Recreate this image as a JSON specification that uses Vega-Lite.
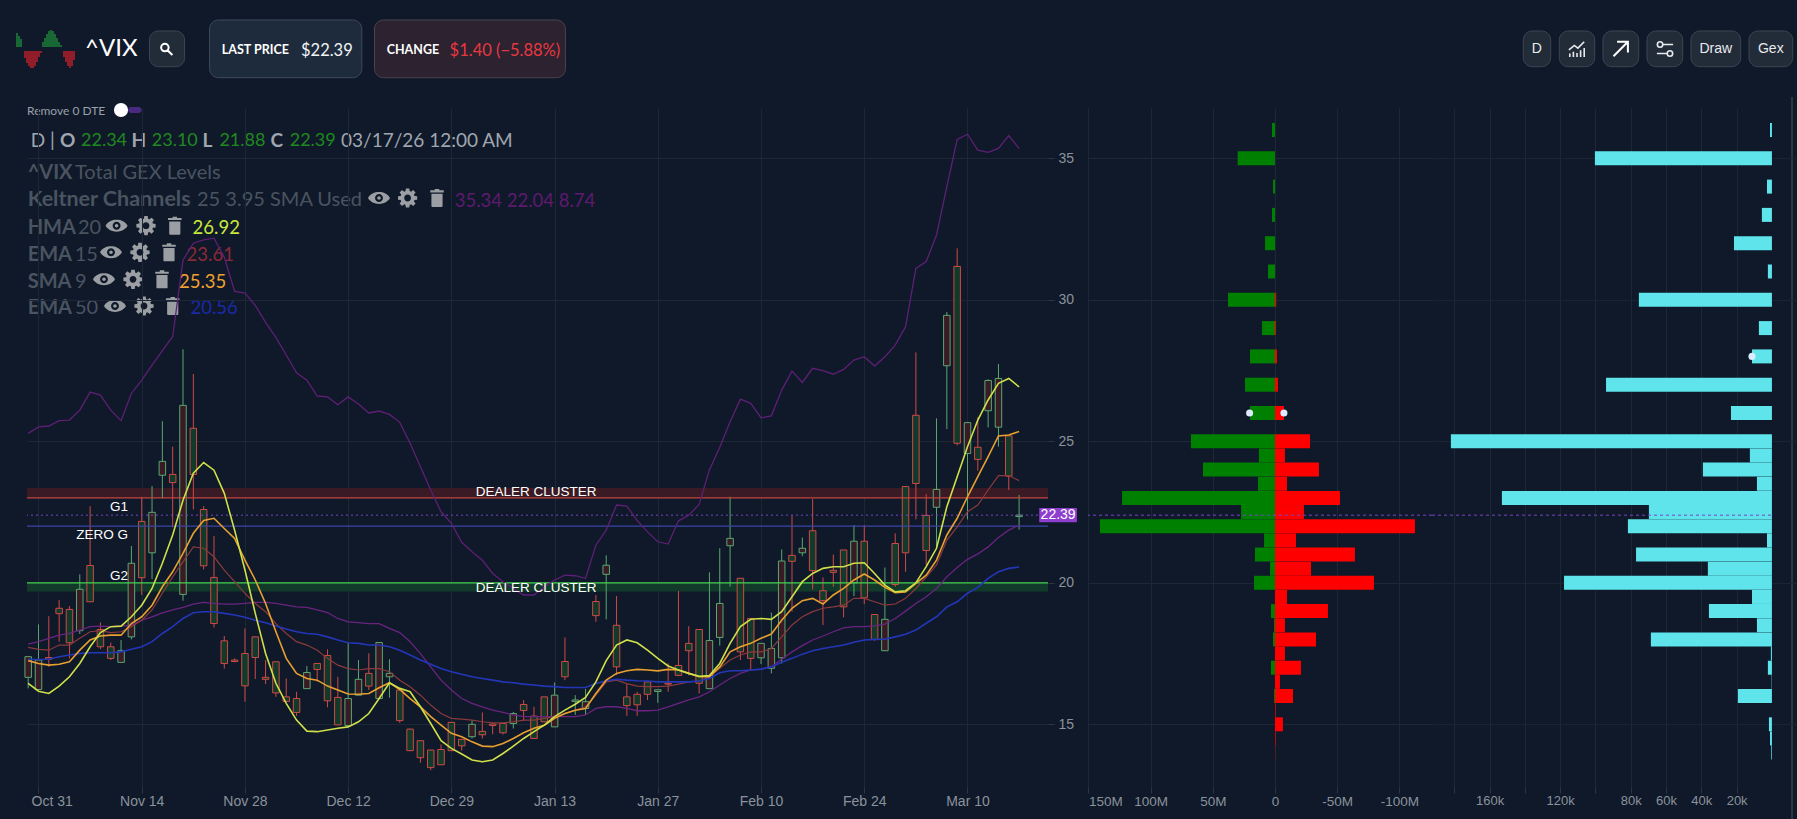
{"$schema":"https://vega.github.io/schema/vega-lite/v6.json","background":"#0f1929","padding":0,"spacing":0,"bounds":"flush","config":{"view":{"stroke":null},"font":"Liberation Sans"},
"datasets":{
"candles":[
{"i":-1,"o":16.66,"h":17.39,"l":16.27,"c":17.39,"d":"up","ku":25.28,"kb":17.83,"e15":17.72,"s9":17.25,"h20":16.45,"e50":17.3},
{"i":0,"o":16.23,"h":18.53,"l":16.23,"c":17.27,"d":"up","ku":25.51,"kb":17.92,"e15":17.65,"s9":17.15,"h20":16.17,"e50":17.29},
{"i":1,"o":17.36,"h":18.82,"l":17.03,"c":17.3,"d":"down","ku":25.54,"kb":18.04,"e15":17.62,"s9":17.09,"h20":16.09,"e50":17.3},
{"i":2,"o":19.1,"h":19.39,"l":17.92,"c":18.91,"d":"down","ku":25.73,"kb":18.15,"e15":17.8,"s9":17.12,"h20":16.35,"e50":17.39},
{"i":3,"o":19.06,"h":19.18,"l":17.33,"c":17.88,"d":"down","ku":25.75,"kb":18.21,"e15":17.8,"s9":17.21,"h20":16.68,"e50":17.45},
{"i":4,"o":18.31,"h":20.3,"l":18.19,"c":19.77,"d":"up","ku":26.1,"kb":18.33,"e15":18.04,"s9":17.62,"h20":17.15,"e50":17.5},
{"i":5,"o":20.61,"h":22.71,"l":19.33,"c":19.33,"d":"down","ku":26.74,"kb":18.45,"e15":18.27,"s9":17.98,"h20":17.74,"e50":17.53},
{"i":6,"o":18.35,"h":18.6,"l":17.66,"c":17.74,"d":"down","ku":26.63,"kb":18.47,"e15":18.31,"s9":18.12,"h20":18.24,"e50":17.53},
{"i":7,"o":17.74,"h":17.89,"l":17.27,"c":17.33,"d":"down","ku":26.1,"kb":18.45,"e15":18.24,"s9":18.15,"h20":18.45,"e50":17.53},
{"i":8,"o":17.19,"h":17.98,"l":17.19,"c":17.6,"d":"up","ku":25.73,"kb":18.47,"e15":18.27,"s9":18.15,"h20":18.47,"e50":17.56},
{"i":9,"o":18.09,"h":21.3,"l":18.0,"c":20.69,"d":"up","ku":26.69,"kb":18.5,"e15":18.45,"s9":18.56,"h20":18.8,"e50":17.65},
{"i":10,"o":22.17,"h":23.04,"l":19.57,"c":20.18,"d":"down","ku":27.16,"kb":18.68,"e15":18.68,"s9":18.8,"h20":19.21,"e50":17.74},
{"i":11,"o":21.06,"h":23.42,"l":20.13,"c":22.49,"d":"up","ku":27.69,"kb":18.8,"e15":19.04,"s9":19.21,"h20":19.8,"e50":17.92},
{"i":12,"o":23.8,"h":25.71,"l":22.98,"c":24.29,"d":"up","ku":28.2,"kb":18.94,"e15":19.63,"s9":19.86,"h20":20.69,"e50":18.21},
{"i":13,"o":23.83,"h":24.81,"l":21.96,"c":23.54,"d":"down","ku":28.7,"kb":19.04,"e15":20.21,"s9":20.39,"h20":21.69,"e50":18.45},
{"i":14,"o":19.59,"h":28.25,"l":19.37,"c":26.27,"d":"up","ku":31.4,"kb":19.13,"e15":20.74,"s9":21.04,"h20":22.92,"e50":18.74},
{"i":15,"o":25.46,"h":27.38,"l":22.59,"c":23.83,"d":"down","ku":32.0,"kb":19.25,"e15":21.27,"s9":21.75,"h20":23.87,"e50":18.94},
{"i":16,"o":22.59,"h":22.71,"l":20.47,"c":20.6,"d":"down","ku":32.12,"kb":19.31,"e15":21.22,"s9":22.2,"h20":24.25,"e50":18.98},
{"i":17,"o":20.19,"h":21.65,"l":18.42,"c":18.56,"d":"down","ku":32.18,"kb":19.27,"e15":20.92,"s9":22.28,"h20":23.98,"e50":18.98},
{"i":18,"o":17.95,"h":18.12,"l":16.97,"c":17.15,"d":"down","ku":31.5,"kb":19.25,"e15":20.45,"s9":21.92,"h20":23.16,"e50":18.92},
{"i":19,"o":17.27,"h":17.33,"l":17.19,"c":17.22,"d":"down","ku":30.3,"kb":19.25,"e15":20.04,"s9":21.57,"h20":21.86,"e50":18.86},
{"i":20,"o":17.5,"h":18.39,"l":15.8,"c":16.36,"d":"down","ku":30.24,"kb":19.27,"e15":19.63,"s9":20.8,"h20":20.45,"e50":18.78},
{"i":21,"o":18.09,"h":18.09,"l":16.6,"c":17.36,"d":"down","ku":29.8,"kb":19.31,"e15":19.27,"s9":20.1,"h20":18.92,"e50":18.68},
{"i":22,"o":16.66,"h":17.27,"l":16.42,"c":16.59,"d":"down","ku":29.2,"kb":19.31,"e15":18.98,"s9":19.27,"h20":17.5,"e50":18.59},
{"i":23,"o":17.21,"h":17.21,"l":15.97,"c":16.11,"d":"down","ku":28.67,"kb":19.27,"e15":18.56,"s9":18.27,"h20":16.45,"e50":18.47},
{"i":24,"o":15.97,"h":16.62,"l":15.81,"c":15.81,"d":"down","ku":28.05,"kb":19.21,"e15":18.21,"s9":17.33,"h20":15.74,"e50":18.37},
{"i":25,"o":15.91,"h":16.15,"l":15.3,"c":15.42,"d":"down","ku":27.42,"kb":19.15,"e15":17.92,"s9":16.8,"h20":15.15,"e50":18.27},
{"i":26,"o":16.26,"h":17.06,"l":16.26,"c":16.83,"d":"up","ku":27.16,"kb":19.13,"e15":17.8,"s9":16.62,"h20":14.76,"e50":18.21},
{"i":27,"o":17.15,"h":17.15,"l":16.5,"c":16.94,"d":"down","ku":26.6,"kb":19.04,"e15":17.62,"s9":16.56,"h20":14.74,"e50":18.18},
{"i":28,"o":17.43,"h":17.65,"l":15.6,"c":15.83,"d":"down","ku":26.57,"kb":18.95,"e15":17.33,"s9":16.35,"h20":14.8,"e50":18.09},
{"i":29,"o":15.95,"h":16.68,"l":14.98,"c":14.98,"d":"down","ku":26.29,"kb":18.74,"e15":17.09,"s9":16.21,"h20":14.86,"e50":17.98},
{"i":30,"o":14.96,"h":17.88,"l":14.96,"c":15.91,"d":"up","ku":26.57,"kb":18.62,"e15":16.97,"s9":16.07,"h20":14.91,"e50":17.88},
{"i":31,"o":16.03,"h":17.27,"l":16.03,"c":16.59,"d":"up","ku":26.32,"kb":18.59,"e15":16.92,"s9":16.06,"h20":15.09,"e50":17.86},
{"i":32,"o":16.8,"h":17.51,"l":16.21,"c":16.35,"d":"down","ku":26.0,"kb":18.56,"e15":16.97,"s9":16.09,"h20":15.38,"e50":17.8},
{"i":33,"o":15.91,"h":17.89,"l":15.91,"c":17.89,"d":"up","ku":26.07,"kb":18.56,"e15":16.97,"s9":16.29,"h20":15.91,"e50":17.8},
{"i":34,"o":16.68,"h":17.3,"l":15.94,"c":16.8,"d":"up","ku":25.95,"kb":18.39,"e15":16.86,"s9":16.47,"h20":16.47,"e50":17.74},
{"i":35,"o":16.21,"h":16.27,"l":15.05,"c":15.13,"d":"down","ku":25.67,"kb":18.24,"e15":16.56,"s9":16.23,"h20":16.27,"e50":17.62},
{"i":36,"o":14.83,"h":14.85,"l":14.05,"c":14.07,"d":"down","ku":24.93,"kb":17.92,"e15":16.33,"s9":15.91,"h20":16.15,"e50":17.45},
{"i":37,"o":14.42,"h":14.42,"l":13.64,"c":13.82,"d":"down","ku":24.1,"kb":17.5,"e15":16.03,"s9":15.62,"h20":15.62,"e50":17.27},
{"i":38,"o":14.09,"h":14.09,"l":13.38,"c":13.47,"d":"down","ku":23.28,"kb":17.03,"e15":15.68,"s9":15.27,"h20":15.03,"e50":17.12},
{"i":39,"o":14.11,"h":14.29,"l":13.57,"c":13.57,"d":"down","ku":22.51,"kb":16.56,"e15":15.38,"s9":14.97,"h20":14.42,"e50":16.97},
{"i":40,"o":15.07,"h":15.07,"l":14.05,"c":14.07,"d":"down","ku":22.1,"kb":16.21,"e15":15.21,"s9":14.68,"h20":14.15,"e50":16.86},
{"i":41,"o":14.47,"h":14.47,"l":14.07,"c":14.24,"d":"down","ku":21.43,"kb":15.91,"e15":15.18,"s9":14.56,"h20":13.95,"e50":16.77},
{"i":42,"o":14.56,"h":15.13,"l":14.5,"c":15.0,"d":"up","ku":21.1,"kb":15.74,"e15":15.15,"s9":14.38,"h20":13.74,"e50":16.68},
{"i":43,"o":14.75,"h":15.42,"l":14.5,"c":14.63,"d":"down","ku":20.8,"kb":15.62,"e15":15.09,"s9":14.23,"h20":13.68,"e50":16.62},
{"i":44,"o":15.01,"h":15.05,"l":14.65,"c":14.96,"d":"down","ku":20.33,"kb":15.5,"e15":15.05,"s9":14.21,"h20":13.74,"e50":16.56},
{"i":45,"o":15.03,"h":15.03,"l":14.64,"c":14.7,"d":"down","ku":20.04,"kb":15.42,"e15":15.05,"s9":14.32,"h20":13.97,"e50":16.5},
{"i":46,"o":15.03,"h":15.44,"l":14.85,"c":15.38,"d":"up","ku":19.8,"kb":15.33,"e15":15.09,"s9":14.5,"h20":14.23,"e50":16.47},
{"i":47,"o":15.7,"h":15.86,"l":15.13,"c":15.49,"d":"down","ku":19.57,"kb":15.27,"e15":15.15,"s9":14.7,"h20":14.5,"e50":16.42},
{"i":48,"o":15.29,"h":15.62,"l":14.5,"c":14.5,"d":"down","ku":19.57,"kb":15.27,"e15":15.15,"s9":14.86,"h20":14.74,"e50":16.39},
{"i":49,"o":15.97,"h":15.97,"l":15.09,"c":15.09,"d":"down","ku":19.86,"kb":15.27,"e15":15.21,"s9":14.97,"h20":14.97,"e50":16.35},
{"i":50,"o":14.91,"h":16.48,"l":14.91,"c":16.03,"d":"up","ku":20.1,"kb":15.27,"e15":15.27,"s9":15.21,"h20":15.27,"e50":16.33},
{"i":51,"o":17.22,"h":18.07,"l":16.56,"c":16.68,"d":"down","ku":20.27,"kb":15.27,"e15":15.38,"s9":15.38,"h20":15.5,"e50":16.3},
{"i":52,"o":15.81,"h":16.03,"l":15.33,"c":15.86,"d":"up","ku":20.25,"kb":15.27,"e15":15.5,"s9":15.5,"h20":15.71,"e50":16.3},
{"i":53,"o":15.56,"h":16.25,"l":15.33,"c":15.8,"d":"up","ku":20.16,"kb":15.33,"e15":15.62,"s9":15.56,"h20":15.95,"e50":16.3},
{"i":54,"o":19.34,"h":19.57,"l":18.62,"c":18.84,"d":"down","ku":21.33,"kb":15.56,"e15":16.03,"s9":16.09,"h20":16.5,"e50":16.44},
{"i":55,"o":20.3,"h":20.97,"l":18.71,"c":20.62,"d":"up","ku":21.86,"kb":15.62,"e15":16.5,"s9":16.56,"h20":17.25,"e50":16.54},
{"i":56,"o":18.5,"h":19.53,"l":16.74,"c":17.03,"d":"down","ku":22.75,"kb":15.62,"e15":16.56,"s9":16.8,"h20":17.8,"e50":16.59},
{"i":57,"o":15.97,"h":16.42,"l":15.3,"c":15.66,"d":"down","ku":22.71,"kb":15.56,"e15":16.44,"s9":16.89,"h20":17.98,"e50":16.56},
{"i":58,"o":16.06,"h":16.15,"l":15.3,"c":15.69,"d":"down","ku":22.2,"kb":15.48,"e15":16.35,"s9":16.94,"h20":17.88,"e50":16.54},
{"i":59,"o":16.5,"h":16.5,"l":15.86,"c":16.06,"d":"down","ku":21.8,"kb":15.48,"e15":16.33,"s9":16.92,"h20":17.62,"e50":16.53},
{"i":60,"o":16.16,"h":16.22,"l":15.76,"c":16.22,"d":"up","ku":21.45,"kb":15.5,"e15":16.33,"s9":16.89,"h20":17.33,"e50":16.5},
{"i":61,"o":16.45,"h":17.15,"l":16.15,"c":16.42,"d":"down","ku":21.37,"kb":15.62,"e15":16.35,"s9":16.94,"h20":17.06,"e50":16.5},
{"i":62,"o":17.08,"h":19.71,"l":16.73,"c":16.73,"d":"down","ku":22.19,"kb":15.74,"e15":16.42,"s9":16.92,"h20":16.92,"e50":16.5},
{"i":63,"o":17.86,"h":18.47,"l":16.73,"c":17.6,"d":"down","ku":22.39,"kb":15.86,"e15":16.5,"s9":16.8,"h20":16.8,"e50":16.5},
{"i":64,"o":18.35,"h":18.35,"l":16.09,"c":16.45,"d":"down","ku":22.77,"kb":15.97,"e15":16.53,"s9":16.68,"h20":16.7,"e50":16.53},
{"i":65,"o":16.26,"h":20.37,"l":16.26,"c":17.96,"d":"up","ku":23.99,"kb":16.15,"e15":16.68,"s9":16.68,"h20":16.72,"e50":16.62},
{"i":66,"o":18.07,"h":21.22,"l":17.78,"c":19.27,"d":"up","ku":24.79,"kb":16.39,"e15":16.98,"s9":17.03,"h20":17.15,"e50":16.82},
{"i":67,"o":21.31,"h":23.04,"l":19.86,"c":21.57,"d":"up","ku":25.69,"kb":16.62,"e15":17.27,"s9":17.56,"h20":17.86,"e50":16.89},
{"i":68,"o":20.16,"h":20.16,"l":17.27,"c":17.56,"d":"down","ku":26.49,"kb":16.8,"e15":17.45,"s9":17.74,"h20":18.45,"e50":16.89},
{"i":69,"o":18.74,"h":18.74,"l":16.94,"c":17.33,"d":"down","ku":26.34,"kb":16.92,"e15":17.56,"s9":17.86,"h20":18.71,"e50":16.92},
{"i":70,"o":17.35,"h":17.86,"l":17.13,"c":17.86,"d":"up","ku":25.83,"kb":16.94,"e15":17.56,"s9":18.04,"h20":18.74,"e50":16.95},
{"i":71,"o":16.98,"h":18.95,"l":16.8,"c":17.68,"d":"up","ku":25.9,"kb":17.03,"e15":17.68,"s9":18.19,"h20":18.71,"e50":17.03},
{"i":72,"o":17.35,"h":21.18,"l":17.15,"c":20.77,"d":"up","ku":26.81,"kb":17.3,"e15":18.09,"s9":18.68,"h20":18.98,"e50":17.19},
{"i":73,"o":20.97,"h":22.39,"l":18.98,"c":20.76,"d":"down","ku":27.48,"kb":17.56,"e15":18.51,"s9":19.1,"h20":19.51,"e50":17.33},
{"i":74,"o":21.06,"h":21.6,"l":20.94,"c":21.22,"d":"up","ku":27.08,"kb":17.78,"e15":18.8,"s9":19.37,"h20":20.04,"e50":17.48},
{"i":75,"o":21.84,"h":22.96,"l":19.77,"c":20.43,"d":"down","ku":27.58,"kb":17.98,"e15":18.98,"s9":19.45,"h20":20.33,"e50":17.6},
{"i":76,"o":19.72,"h":20.19,"l":18.51,"c":19.37,"d":"down","ku":27.5,"kb":18.12,"e15":19.1,"s9":19.25,"h20":20.51,"e50":17.68},
{"i":77,"o":20.44,"h":21.0,"l":19.86,"c":20.37,"d":"down","ku":27.37,"kb":18.27,"e15":19.15,"s9":19.57,"h20":20.57,"e50":17.74},
{"i":78,"o":21.16,"h":21.16,"l":18.78,"c":19.15,"d":"down","ku":27.54,"kb":18.41,"e15":19.21,"s9":19.8,"h20":20.57,"e50":17.8},
{"i":79,"o":20.0,"h":22.04,"l":19.53,"c":21.47,"d":"up","ku":27.87,"kb":18.45,"e15":19.45,"s9":20.1,"h20":20.69,"e50":17.9},
{"i":80,"o":21.47,"h":22.04,"l":19.25,"c":19.47,"d":"down","ku":27.99,"kb":18.45,"e15":19.45,"s9":20.31,"h20":20.71,"e50":17.98},
{"i":81,"o":18.88,"h":18.88,"l":17.95,"c":18.0,"d":"down","ku":27.66,"kb":18.48,"e15":19.33,"s9":20.1,"h20":20.33,"e50":18.0},
{"i":82,"o":17.6,"h":20.54,"l":17.6,"c":18.71,"d":"up","ku":27.99,"kb":18.54,"e15":19.21,"s9":19.84,"h20":19.92,"e50":18.01},
{"i":83,"o":21.39,"h":21.75,"l":19.86,"c":19.94,"d":"down","ku":28.4,"kb":18.74,"e15":19.25,"s9":19.65,"h20":19.68,"e50":18.09},
{"i":84,"o":23.4,"h":23.4,"l":20.39,"c":21.06,"d":"down","ku":29.05,"kb":19.0,"e15":19.45,"s9":19.68,"h20":19.72,"e50":18.18},
{"i":85,"o":25.92,"h":28.14,"l":22.24,"c":23.51,"d":"down","ku":31.11,"kb":19.27,"e15":19.8,"s9":19.98,"h20":20.0,"e50":18.33},
{"i":86,"o":22.38,"h":23.13,"l":20.63,"c":21.14,"d":"down","ku":31.35,"kb":19.51,"e15":20.2,"s9":20.27,"h20":20.57,"e50":18.57},
{"i":87,"o":22.67,"h":25.81,"l":21.2,"c":23.3,"d":"up","ku":32.29,"kb":19.8,"e15":20.63,"s9":20.8,"h20":21.22,"e50":18.8},
{"i":88,"o":27.67,"h":29.57,"l":25.43,"c":29.45,"d":"up","ku":34.0,"kb":20.21,"e15":21.51,"s9":21.69,"h20":22.69,"e50":19.15},
{"i":89,"o":31.18,"h":31.82,"l":24.85,"c":24.93,"d":"down","ku":35.67,"kb":20.54,"e15":21.98,"s9":22.28,"h20":23.75,"e50":19.33},
{"i":90,"o":24.57,"h":25.66,"l":22.24,"c":25.66,"d":"up","ku":35.85,"kb":20.83,"e15":22.51,"s9":23.04,"h20":24.81,"e50":19.63},
{"i":91,"o":24.79,"h":25.85,"l":23.96,"c":24.36,"d":"down","ku":35.29,"kb":21.02,"e15":22.75,"s9":23.75,"h20":25.75,"e50":19.84},
{"i":92,"o":26.08,"h":27.19,"l":25.49,"c":27.15,"d":"up","ku":35.21,"kb":21.27,"e15":23.28,"s9":24.46,"h20":26.46,"e50":20.16},
{"i":93,"o":25.5,"h":27.73,"l":24.81,"c":27.22,"d":"up","ku":35.35,"kb":21.6,"e15":23.79,"s9":25.19,"h20":27.05,"e50":20.39},
{"i":94,"o":25.19,"h":25.19,"l":23.28,"c":23.77,"d":"down","ku":35.8,"kb":21.86,"e15":23.79,"s9":25.22,"h20":27.22,"e50":20.51},
{"i":95,"o":22.34,"h":23.1,"l":21.88,"c":22.39,"d":"up","ku":35.34,"kb":22.04,"e15":23.61,"s9":25.35,"h20":26.92,"e50":20.56}
],
"gex":[
{"s":36,"call":2.4,"put":0,"vol":1.1},{"s":35,"call":30,"put":0,"vol":100.3},{"s":34,"call":1.6,"put":0,"vol":2.8},{"s":33,"call":2.4,"put":0,"vol":5.7},{"s":32,"call":8,"put":0,"vol":21.5},{"s":31,"call":5.6,"put":0,"vol":2.3},{"s":30,"call":37.8,"put":-1,"vol":75.4},{"s":29,"call":10.5,"put":-0.8,"vol":7.4},{"s":28,"call":20.1,"put":-1.6,"vol":11.3},{"s":27,"call":24.1,"put":-2.4,"vol":94},{"s":26,"call":20.1,"put":-7.2,"vol":23.2},{"s":25,"call":67.6,"put":-28.2,"vol":181.9},{"s":24.5,"call":12.9,"put":-8,"vol":12.5},{"s":24,"call":57.9,"put":-35.4,"vol":39.1},{"s":23.5,"call":13.7,"put":-9.7,"vol":8.5},{"s":23,"call":123,"put":-52.3,"vol":153},{"s":22.5,"call":27.3,"put":-23.3,"vol":69.7},{"s":22,"call":140.8,"put":-112.6,"vol":81.6},{"s":21.5,"call":8.8,"put":-16.9,"vol":2.8},{"s":21,"call":16.1,"put":-64.3,"vol":77},{"s":20.5,"call":4,"put":-29,"vol":36.3},{"s":20,"call":16.9,"put":-79.6,"vol":117.8},{"s":19.5,"call":0,"put":-9.7,"vol":11.3},{"s":19,"call":3.2,"put":-42.6,"vol":35.7},{"s":18.5,"call":0.8,"put":-8,"vol":8.5},{"s":18,"call":1.6,"put":-33,"vol":68.6},{"s":17.5,"call":0,"put":-8,"vol":0.6},{"s":17,"call":3.2,"put":-20.9,"vol":2.3},{"s":16.5,"call":0,"put":-4,"vol":0.2},{"s":16,"call":0.8,"put":-14.5,"vol":19.3},{"s":15.5,"call":0,"put":-0.5,"vol":0},{"s":15,"call":0,"put":-6.4,"vol":1.7},{"s":14.5,"call":0,"put":-0.5,"vol":1.1},{"s":14,"call":0,"put":-0.2,"vol":0.4}
],
"plain":[
{"t":"^VIX","x":85,"y":47,"k":"vix"},{"t":"$22.39","x":301,"y":49,"k":"white16"},{"t":"$1.40 (−5.88%)","x":449.6,"y":49,"k":"red16"},{"t":"Remove 0 DTE","x":27,"y":109,"k":"gray12"},
{"t":"D |","x":30.8,"y":139,"k":"gray19"},{"t":"22.34","x":81,"y":139,"k":"green18"},{"t":"23.10","x":151.8,"y":139,"k":"green18"},{"t":"21.88","x":219.4,"y":139,"k":"green18"},{"t":"22.39","x":289.7,"y":139,"k":"green18"},{"t":"03/17/26 12:00 AM","x":341,"y":139,"k":"gray19"},
{"t":"Total GEX Levels","x":75,"y":171,"k":"dim20"},{"t":"25 3.95 SMA Used","x":197,"y":198,"k":"dim20"},{"t":"35.34 22.04 8.74","x":454.7,"y":199,"k":"purple"},
{"t":"20","x":78,"y":226,"k":"dim20"},{"t":"26.92","x":192.6,"y":226,"k":"lime"},{"t":"15","x":74.7,"y":253,"k":"dim20"},{"t":"23.61","x":186.6,"y":253,"k":"dred"},{"t":"9","x":75,"y":280,"k":"dim20"},{"t":"25.35","x":179,"y":280,"k":"orange"},{"t":"50","x":75,"y":306,"k":"dim20"},{"t":"20.56","x":190.5,"y":306,"k":"blue"}
],
"bold":[
{"t":"LAST PRICE","x":221.8,"y":48,"k":"white12"},{"t":"CHANGE","x":386.7,"y":48,"k":"white12"},{"t":"O","x":60,"y":139,"k":"gray19"},{"t":"H","x":131.6,"y":139,"k":"gray19"},{"t":"L","x":202.4,"y":139,"k":"gray19"},{"t":"C","x":270.4,"y":139,"k":"gray19"},
{"t":"^VIX","x":27.7,"y":171,"k":"dim20"},{"t":"Keltner Channels","x":27.7,"y":198,"k":"dim22"},{"t":"HMA","x":27.7,"y":226,"k":"dim20"},{"t":"EMA","x":27.7,"y":253,"k":"dim20"},{"t":"SMA","x":27.7,"y":280,"k":"dim20"},{"t":"EMA","x":27.7,"y":306,"k":"dim20"}
],
"boxes":[
{"x":149.5,"x2":184.6,"y":31,"y2":66.7,"k":"btn"},{"x":209.6,"x2":361.8,"y":20,"y2":77.7,"k":"last"},{"x":374.5,"x2":565.4,"y":20,"y2":77.7,"k":"chg"},
{"x":1523.3,"x2":1550.7,"y":31,"y2":66.7,"k":"btn"},{"x":1559.3,"x2":1594.7,"y":31,"y2":66.7,"k":"btn"},{"x":1603,"x2":1638.7,"y":31,"y2":66.7,"k":"btn"},{"x":1647,"x2":1682.7,"y":31,"y2":66.7,"k":"btn"},{"x":1691,"x2":1740.7,"y":31,"y2":66.7,"k":"btn"},{"x":1749,"x2":1792.7,"y":31,"y2":66.7,"k":"btn"}
],
"logo":[
{"x":17,"a":33,"b":47,"k":"g"},{"x":19,"a":36,"b":47,"k":"g"},{"x":21,"a":39,"b":47,"k":"g"},{"x":43,"a":42,"b":47,"k":"g"},{"x":45,"a":38,"b":47,"k":"g"},{"x":47,"a":34,"b":47,"k":"g"},{"x":49,"a":31,"b":47,"k":"g"},{"x":51,"a":30,"b":47,"k":"g"},{"x":53,"a":31,"b":47,"k":"g"},{"x":55,"a":34,"b":47,"k":"g"},{"x":57,"a":38,"b":47,"k":"g"},{"x":59,"a":42,"b":47,"k":"g"},{"x":61,"a":45,"b":47,"k":"g"},
{"x":25,"a":51,"b":58,"k":"r"},{"x":27,"a":51,"b":63,"k":"r"},{"x":29,"a":51,"b":66,"k":"r"},{"x":31,"a":51,"b":68,"k":"r"},{"x":33,"a":51,"b":68,"k":"r"},{"x":35,"a":51,"b":66,"k":"r"},{"x":37,"a":51,"b":62,"k":"r"},{"x":39,"a":51,"b":57,"k":"r"},{"x":41,"a":51,"b":53,"k":"r"},{"x":64,"a":51,"b":57,"k":"r"},{"x":66,"a":51,"b":62,"k":"r"},{"x":68,"a":51,"b":66,"k":"r"},{"x":70,"a":51,"b":68,"k":"r"},{"x":72,"a":51,"b":66,"k":"r"},{"x":74,"a":51,"b":60,"k":"r"}
]
},
"vconcat":[
{"width":1797,"height":108,"resolve":{"scale":{"color":"independent","size":"independent","fill":"independent","stroke":"independent"}},"layer":[
{"data":{"name":"boxes"},"mark":{"type":"rect","cornerRadius":9,"strokeWidth":1},"encoding":{"x":{"field":"x","type":"quantitative","scale":{"domain":[0,1797]},"axis":null},"x2":{"field":"x2"},"y":{"field":"y","type":"quantitative","scale":{"domain":[0,108],"reverse":true},"axis":null},"y2":{"field":"y2"},"fill":{"field":"k","type":"nominal","legend":null,"scale":{"domain":["btn","last","chg"],"range":["#222c39","#1e2b3c","#2c2230"]}},"stroke":{"field":"k","type":"nominal","legend":null,"scale":{"domain":["btn","last","chg"],"range":["#3c4652","#3e4a5a","#4b4450"]}}}},
{"data":{"values":[{"x":1791,"x2":1793,"y":97,"y2":819}]},"mark":{"type":"rect","fill":"#2a3442"},"encoding":{"x":{"field":"x","type":"quantitative","scale":{"domain":[0,1797]},"axis":null},"x2":{"field":"x2"},"y":{"field":"y","type":"quantitative","scale":{"domain":[0,108],"reverse":true},"axis":null},"y2":{"field":"y2"}}},
{"data":{"values":[{"x":128,"x2":141.6,"y":107,"y2":113}]},"mark":{"type":"rect","fill":"#4a2a80","cornerRadius":3},"encoding":{"x":{"field":"x","type":"quantitative","scale":{"domain":[0,1797]},"axis":null},"x2":{"field":"x2"},"y":{"field":"y","type":"quantitative","scale":{"domain":[0,108],"reverse":true},"axis":null},"y2":{"field":"y2"}}},
{"data":{"values":[{"x":121,"y":110}]},"mark":{"type":"point","filled":true,"shape":"circle","size":200,"color":"#ffffff","opacity":1},"encoding":{"x":{"field":"x","type":"quantitative","scale":{"domain":[0,1797]},"axis":null},"y":{"field":"y","type":"quantitative","scale":{"domain":[0,108],"reverse":true},"axis":null}}},
{"data":{"name":"logo"},"mark":{"type":"rule","strokeWidth":1.4},"encoding":{"x":{"field":"x","type":"quantitative","scale":{"domain":[0,1797]},"axis":null},"y":{"field":"a","type":"quantitative","scale":{"domain":[0,108],"reverse":true},"axis":null},"y2":{"field":"b"},"color":{"field":"k","type":"nominal","legend":null,"scale":{"domain":["g","r"],"range":["#1e8a3a","#c8202c"]}}}},
{"data":{"name":"plain"},"mark":{"type":"text","font":"Lato","align":"left","baseline":"middle","dy":1.5},"encoding":{"x":{"field":"x","type":"quantitative","scale":{"domain":[0,1797]},"axis":null},"y":{"field":"y","type":"quantitative","scale":{"domain":[0,108],"reverse":true},"axis":null},"text":{"field":"t"},"color":{"field":"k","type":"nominal","legend":null,"scale":{"domain":["vix","white16","red16","gray12","gray19","green18","dim20","dim22","purple","lime","dred","orange","blue","white12"],"range":["#ffffff","#f2f4f6","#e8383f","#98a0aa","#a0a6b0","#1f8a1f","#4a5360","#4a5360","#5e1a70","#c8e83a","#8a2a38","#f0a030","#1a2aa8","#ffffff"]}},"size":{"field":"k","type":"ordinal","legend":null,"scale":{"type":"ordinal","domain":["vix","white16","red16","gray12","gray19","green18","dim20","dim22","purple","lime","dred","orange","blue","white12"],"range":[24,16.5,16.5,12,19,18,20,21.5,18.5,18.5,18.5,18.5,18.5,12.5]}}}},
{"data":{"name":"bold"},"mark":{"type":"text","font":"Lato","fontWeight":"bold","align":"left","baseline":"middle","dy":1.5},"encoding":{"x":{"field":"x","type":"quantitative","scale":{"domain":[0,1797]},"axis":null},"y":{"field":"y","type":"quantitative","scale":{"domain":[0,108],"reverse":true},"axis":null},"text":{"field":"t"},"color":{"field":"k","type":"nominal","legend":null,"scale":{"domain":["vix","white16","red16","gray12","gray19","green18","dim20","dim22","purple","lime","dred","orange","blue","white12"],"range":["#ffffff","#f2f4f6","#e8383f","#98a0aa","#a0a6b0","#1f8a1f","#4a5360","#4a5360","#5e1a70","#c8e83a","#8a2a38","#f0a030","#1a2aa8","#ffffff"]}},"size":{"field":"k","type":"ordinal","legend":null,"scale":{"type":"ordinal","domain":["vix","white16","red16","gray12","gray19","green18","dim20","dim22","purple","lime","dred","orange","blue","white12"],"range":[24,16.5,16.5,12,19,18,20,21.5,18.5,18.5,18.5,18.5,18.5,12.5]}}}},
{"data":{"values":[{"t":"D","x":1536.7,"y":49.3},{"t":"Draw","x":1715.8,"y":49.3},{"t":"Gex","x":1770.8,"y":49.3}]},"mark":{"type":"text","font":"Liberation Sans","fontSize":14,"color":"#e8eaed","align":"center","baseline":"middle"},"encoding":{"x":{"field":"x","type":"quantitative","scale":{"domain":[0,1797]},"axis":null},"y":{"field":"y","type":"quantitative","scale":{"domain":[0,108],"reverse":true},"axis":null},"text":{"field":"t"}}},
{"data":{"values":[{"x":379,"y":198},{"x":116.6,"y":225.7},{"x":111,"y":252.3},{"x":104,"y":279.3},{"x":115,"y":306}]},"mark":{"type":"point","filled":true,"opacity":1,"color":"#9b9ea3","size":484,"shape":"M-1,0 C-0.6,-0.72 0.6,-0.72 1,0 C0.6,0.72 -0.6,0.72 -1,0 Z M0.36,0 A0.36,0.36 0 1 0 -0.36,0 A0.36,0.36 0 1 0 0.36,0 Z M0.16,0 A0.16,0.16 0 1 1 -0.16,0 A0.16,0.16 0 1 1 0.16,0 Z"},"encoding":{"x":{"field":"x","type":"quantitative","scale":{"domain":[0,1797]},"axis":null},"y":{"field":"y","type":"quantitative","scale":{"domain":[0,108],"reverse":true},"axis":null}}},
{"data":{"values":[{"x":407.6,"y":198},{"x":146,"y":225.7},{"x":140,"y":252.3},{"x":133,"y":279.3},{"x":144,"y":306}]},"mark":{"type":"point","filled":true,"opacity":1,"color":"#9b9ea3","size":380,"shape":"M.708,-.216 L.985,-.174 L.985,.174 L.708,.216 L.653,.347 L.819,.574 L.574,.819 L.347,.653 L.216,.708 L.174,.985 L-.174,.985 L-.216,.708 L-.347,.653 L-.574,.819 L-.819,.574 L-.653,.347 L-.708,.216 L-.985,.174 L-.985,-.174 L-.708,-.216 L-.653,-.347 L-.819,-.574 L-.574,-.819 L-.347,-.653 L-.216,-.708 L-.174,-.985 L.174,-.985 L.216,-.708 L.347,-.653 L.574,-.819 L.819,-.574 L.653,-.347 Z M.35,0 A.35,.35 0 1 0 -.35,0 A.35,.35 0 1 0 .35,0 Z"},"encoding":{"x":{"field":"x","type":"quantitative","scale":{"domain":[0,1797]},"axis":null},"y":{"field":"y","type":"quantitative","scale":{"domain":[0,108],"reverse":true},"axis":null}}},
{"data":{"values":[{"x":437,"y":198},{"x":174.8,"y":225.7},{"x":169,"y":252.3},{"x":162,"y":279.3},{"x":172.7,"y":306}]},"mark":{"type":"point","filled":true,"opacity":1,"color":"#9b9ea3","size":324,"shape":"M-.25,-1 L.25,-1 L.25,-.85 L.75,-.85 L.75,-.62 L-.75,-.62 L-.75,-.85 L-.25,-.85 Z M-.62,-.48 L.62,-.48 L.62,.9 Q.62,1 .5,1 L-.5,1 Q-.62,1 -.62,.9 Z"},"encoding":{"x":{"field":"x","type":"quantitative","scale":{"domain":[0,1797]},"axis":null},"y":{"field":"y","type":"quantitative","scale":{"domain":[0,108],"reverse":true},"axis":null}}},
{"data":{"values":[{"x":166,"y":48.7}]},"mark":{"type":"point","filled":false,"opacity":1,"color":"#ffffff","strokeWidth":2,"size":225,"shape":"M.35,-.15 A.5,.5 0 1 1 -.65,-.15 A.5,.5 0 1 1 .35,-.15 M.2,.2 L.85,.85"},"encoding":{"x":{"field":"x","type":"quantitative","scale":{"domain":[0,1797]},"axis":null},"y":{"field":"y","type":"quantitative","scale":{"domain":[0,108],"reverse":true},"axis":null}}},
{"data":{"values":[{"x":1577,"y":49}]},"mark":{"type":"point","filled":false,"opacity":1,"color":"#e8eaed","strokeWidth":1.6,"size":324,"shape":"M-.8,.9 L-.8,.5 M-.4,.9 L-.4,.3 M0,.9 L0,.45 M.4,.9 L.4,.15 M.8,.9 L.8,-.1 M-.9,.1 L-.3,-.4 L.1,-.1 L.8,-.8"},"encoding":{"x":{"field":"x","type":"quantitative","scale":{"domain":[0,1797]},"axis":null},"y":{"field":"y","type":"quantitative","scale":{"domain":[0,108],"reverse":true},"axis":null}}},
{"data":{"values":[{"x":1620.7,"y":49}]},"mark":{"type":"point","filled":false,"opacity":1,"color":"#ffffff","strokeWidth":2,"size":324,"shape":"M-.8,.8 L.8,-.8 M-.4,-.8 L.8,-.8 L.8,.4"},"encoding":{"x":{"field":"x","type":"quantitative","scale":{"domain":[0,1797]},"axis":null},"y":{"field":"y","type":"quantitative","scale":{"domain":[0,108],"reverse":true},"axis":null}}},
{"data":{"values":[{"x":1665,"y":49}]},"mark":{"type":"point","filled":false,"opacity":1,"color":"#e8eaed","strokeWidth":1.6,"size":324,"shape":"M-.25,-.5 A.3,.3 0 1 1 -.85,-.5 A.3,.3 0 1 1 -.25,-.5 M-.25,-.5 L.9,-.5 M.85,.5 A.3,.3 0 1 1 .25,.5 A.3,.3 0 1 1 .85,.5 M.25,.5 L-.9,.5"},"encoding":{"x":{"field":"x","type":"quantitative","scale":{"domain":[0,1797]},"axis":null},"y":{"field":"y","type":"quantitative","scale":{"domain":[0,108],"reverse":true},"axis":null}}}
]},
{"spacing":0,"bounds":"flush","hconcat":[
{"width":27,"height":679,"data":{"values":[{"a":1}]},"mark":{"type":"point","opacity":0},"encoding":{}},
{"width":1021,"height":679,"layer":[
{"data":{"values":[{"a":23,"b":23.35,"k":"r"},{"a":20,"b":19.69,"k":"g"}]},"mark":{"type":"rect"},"encoding":{"y":{"field":"a","type":"quantitative","scale":{"domain":[12.785,36.777],"nice":false,"zero":false},"axis":{"orient":"right","title":null,"values":[15,20,25,30,35],"grid":true,"gridColor":"#1d2836","domain":false,"tickColor":"#2c3642","tickSize":6,"labelColor":"#8b929c","labelFontSize":14,"labelFont":"Liberation Sans","labelPadding":4}},"y2":{"field":"b"},"fill":{"field":"k","type":"nominal","legend":null,"scale":{"domain":["r","g"],"range":["#3a1a24","#123a2a"]}}}},
{"data":{"name":"candles"},"mark":{"type":"rule","strokeWidth":1},"encoding":{"x":{"field":"i","type":"quantitative","scale":{"domain":[-1.114,97.8],"nice":false,"zero":false,"padding":0},"axis":{"title":null,"values":[0,10,20,30,40,50,60,70,80,90],"labelExpr":"['Oct 31','Nov 14','Nov 28','Dec 12','Dec 29','Jan 13','Jan 27','Feb 10','Feb 24','Mar 10'][datum.value/10]","grid":true,"gridColor":"#1d2836","domain":false,"tickColor":"#2c3642","tickSize":6,"labelColor":"#8b929c","labelFontSize":14,"labelFont":"Liberation Sans","labelPadding":1,"labelFlush":12,"labelFlushOffset":7.5}},"y":{"field":"l","type":"quantitative","scale":{"domain":[12.785,36.777],"nice":false,"zero":false}},"y2":{"field":"h"},"stroke":{"field":"d","type":"nominal","legend":null,"scale":{"domain":["up","down"],"range":["#5aa870","#cf4a44"]}}}},
{"data":{"name":"candles"},"mark":{"type":"bar","orient":"vertical","size":6.5,"strokeWidth":1},"encoding":{"x":{"field":"i","type":"quantitative","scale":{"domain":[-1.114,97.8],"nice":false,"zero":false,"padding":0}},"y":{"field":"o","type":"quantitative","scale":{"domain":[12.785,36.777],"nice":false,"zero":false}},"y2":{"field":"c"},"fill":{"field":"d","type":"nominal","legend":null,"scale":{"domain":["up","down"],"range":["#37734c","#983838"]}},"stroke":{"field":"d","type":"nominal","legend":null,"scale":{"domain":["up","down"],"range":["#5aa870","#cf4a44"]}}}},
{"data":{"values":[{"p":23,"k":"r"},{"p":22,"k":"z"},{"p":20,"k":"g"}]},"mark":{"type":"rule","strokeWidth":1.3},"encoding":{"y":{"field":"p","type":"quantitative","scale":{"domain":[12.785,36.777],"nice":false,"zero":false}},"color":{"field":"k","type":"nominal","legend":null,"scale":{"domain":["r","z","g"],"range":["#c2453f","#3a44a8","#46d050"]}}}},
{"data":{"values":[{"p":22.39}]},"mark":{"type":"rule","strokeWidth":1,"strokeDash":[2,3],"color":"#7a44c8"},"encoding":{"y":{"field":"p","type":"quantitative","scale":{"domain":[12.785,36.777],"nice":false,"zero":false}}}},
{"data":{"name":"candles"},"mark":{"type":"line","strokeWidth":1.3,"color":"#5e1f75"},"encoding":{"x":{"field":"i","type":"quantitative","scale":{"domain":[-1.114,97.8],"nice":false,"zero":false,"padding":0}},"y":{"field":"ku","type":"quantitative","scale":{"domain":[12.785,36.777],"nice":false,"zero":false}}}},
{"data":{"name":"candles"},"mark":{"type":"line","strokeWidth":1.3,"color":"#6a2480"},"encoding":{"x":{"field":"i","type":"quantitative","scale":{"domain":[-1.114,97.8],"nice":false,"zero":false,"padding":0}},"y":{"field":"kb","type":"quantitative","scale":{"domain":[12.785,36.777],"nice":false,"zero":false}}}},
{"data":{"name":"candles"},"mark":{"type":"line","strokeWidth":1.2,"color":"#8a3a3c"},"encoding":{"x":{"field":"i","type":"quantitative","scale":{"domain":[-1.114,97.8],"nice":false,"zero":false,"padding":0}},"y":{"field":"e15","type":"quantitative","scale":{"domain":[12.785,36.777],"nice":false,"zero":false}}}},
{"data":{"name":"candles"},"mark":{"type":"line","strokeWidth":1.6,"color":"#2436b8"},"encoding":{"x":{"field":"i","type":"quantitative","scale":{"domain":[-1.114,97.8],"nice":false,"zero":false,"padding":0}},"y":{"field":"e50","type":"quantitative","scale":{"domain":[12.785,36.777],"nice":false,"zero":false}}}},
{"data":{"name":"candles"},"mark":{"type":"line","strokeWidth":1.6,"color":"#e8a030"},"encoding":{"x":{"field":"i","type":"quantitative","scale":{"domain":[-1.114,97.8],"nice":false,"zero":false,"padding":0}},"y":{"field":"s9","type":"quantitative","scale":{"domain":[12.785,36.777],"nice":false,"zero":false}}}},
{"data":{"name":"candles"},"mark":{"type":"line","strokeWidth":1.6,"color":"#cfe04a"},"encoding":{"x":{"field":"i","type":"quantitative","scale":{"domain":[-1.114,97.8],"nice":false,"zero":false,"padding":0}},"y":{"field":"h20","type":"quantitative","scale":{"domain":[12.785,36.777],"nice":false,"zero":false}}}},
{"data":{"values":[{"t":"G1","i":8.67,"p":22.68},{"t":"ZERO G","i":8.67,"p":21.69},{"t":"G2","i":8.67,"p":20.24}]},"mark":{"type":"text","font":"Liberation Sans","fontSize":13.5,"color":"#ffffff","align":"right","baseline":"middle"},"encoding":{"x":{"field":"i","type":"quantitative","scale":{"domain":[-1.114,97.8],"nice":false,"zero":false,"padding":0}},"y":{"field":"p","type":"quantitative","scale":{"domain":[12.785,36.777],"nice":false,"zero":false}},"text":{"field":"t"}}},
{"data":{"values":[{"t":"DEALER CLUSTER","i":48.2,"p":23.2},{"t":"DEALER CLUSTER","i":48.2,"p":19.83}]},"mark":{"type":"text","font":"Liberation Sans","fontSize":13.5,"color":"#ffffff","align":"center","baseline":"middle"},"encoding":{"x":{"field":"i","type":"quantitative","scale":{"domain":[-1.114,97.8],"nice":false,"zero":false,"padding":0}},"y":{"field":"p","type":"quantitative","scale":{"domain":[12.785,36.777],"nice":false,"zero":false}},"text":{"field":"t"}}},
{"data":{"values":[{"a":96.95,"b":100.6,"p":22.64,"q":22.14}]},"mark":{"type":"rect","fill":"#8f3fcf"},"encoding":{"x":{"field":"a","type":"quantitative","scale":{"domain":[-1.114,97.8],"nice":false,"zero":false,"padding":0}},"x2":{"field":"b"},"y":{"field":"p","type":"quantitative","scale":{"domain":[12.785,36.777],"nice":false,"zero":false}},"y2":{"field":"q"}}},
{"data":{"values":[{"t":"22.39","i":98.78,"p":22.39}]},"mark":{"type":"text","font":"Liberation Sans","fontSize":14,"color":"#ffffff","align":"center","baseline":"middle"},"encoding":{"x":{"field":"i","type":"quantitative","scale":{"domain":[-1.114,97.8],"nice":false,"zero":false,"padding":0}},"y":{"field":"p","type":"quantitative","scale":{"domain":[12.785,36.777],"nice":false,"zero":false}},"text":{"field":"t"}}}
]},
{"width":40,"height":679,"data":{"values":[{"a":1}]},"mark":{"type":"point","opacity":0},"encoding":{}},
{"width":344,"height":679,"layer":[
{"data":{"name":"gex"},"mark":{"type":"bar","orient":"horizontal","size":14,"color":"#008000"},"encoding":{"x":{"field":"call","type":"quantitative","stack":null,"scale":{"domain":[-126.3,150.4],"reverse":true,"nice":false},"axis":{"title":null,"values":[150,100,50,0,-50,-100],"labelExpr":"datum.value==0?'0':datum.value+'M'","grid":true,"gridColor":"#1d2836","domain":false,"tickColor":"#2c3642","tickSize":6,"labelColor":"#8b929c","labelFontSize":13.5,"labelFont":"Liberation Sans","labelPadding":1,"labelFlush":2}},"y":{"field":"s","type":"quantitative","scale":{"domain":[12.785,36.777],"nice":false,"zero":false,"padding":0},"axis":{"title":null,"values":[15,20,25,30,35],"grid":true,"gridColor":"#1d2836","domain":false,"ticks":false,"labels":false}}}},
{"data":{"name":"gex"},"mark":{"type":"bar","orient":"horizontal","size":14,"color":"#ff0000"},"encoding":{"x":{"field":"put","type":"quantitative","stack":null,"scale":{"domain":[-126.3,150.4],"reverse":true,"nice":false}},"y":{"field":"s","type":"quantitative","scale":{"domain":[12.785,36.777],"nice":false,"zero":false,"padding":0}}}},
{"data":{"values":[{"p":22.39}]},"mark":{"type":"rule","strokeWidth":1,"strokeDash":[3,3],"color":"#7a44c8"},"encoding":{"y":{"field":"p","type":"quantitative","scale":{"domain":[12.785,36.777],"nice":false,"zero":false,"padding":0}}}},
{"data":{"values":[{"v":20.4,"s":26},{"v":-7.2,"s":26}]},"mark":{"type":"point","filled":true,"shape":"circle","size":50,"color":"#dcebff","opacity":1},"encoding":{"x":{"field":"v","type":"quantitative","scale":{"domain":[-126.3,150.4],"reverse":true,"nice":false}},"y":{"field":"s","type":"quantitative","scale":{"domain":[12.785,36.777],"nice":false,"zero":false,"padding":0}}}}
]},
{"width":365,"height":679,"layer":[
{"data":{"name":"gex"},"mark":{"type":"bar","orient":"horizontal","size":14,"color":"#5ee4ea"},"encoding":{"x":{"field":"vol","type":"quantitative","stack":null,"scale":{"domain":[-14.2,192.6],"reverse":true,"nice":false},"axis":{"title":null,"values":[180,160,140,120,100,80,60,40,20],"labelExpr":"datum.value==180||datum.value==140||datum.value==100?'':datum.value+'k'","grid":true,"gridColor":"#1d2836","domain":false,"tickColor":"#2c3642","tickSize":6,"labelColor":"#8b929c","labelFontSize":13,"labelFont":"Liberation Sans","labelPadding":1}},"y":{"field":"s","type":"quantitative","scale":{"domain":[12.785,36.777],"nice":false,"zero":false,"padding":0},"axis":{"title":null,"values":[15,20,25,30,35],"grid":true,"gridColor":"#1a2533","domain":false,"ticks":false,"labels":false}}}},
{"data":{"values":[{"p":22.39,"a":192.6,"b":0}]},"mark":{"type":"rule","strokeWidth":1,"strokeDash":[3,3],"color":"#7a44c8"},"encoding":{"x":{"field":"a","type":"quantitative","scale":{"domain":[-14.2,192.6],"reverse":true,"nice":false}},"x2":{"field":"b"},"y":{"field":"p","type":"quantitative","scale":{"domain":[12.785,36.777],"nice":false,"zero":false,"padding":0}}}},
{"data":{"values":[{"v":11.3,"s":28}]},"mark":{"type":"point","filled":true,"shape":"circle","size":50,"color":"#dcebff","opacity":1},"encoding":{"x":{"field":"v","type":"quantitative","scale":{"domain":[-14.2,192.6],"reverse":true,"nice":false}},"y":{"field":"s","type":"quantitative","scale":{"domain":[12.785,36.777],"nice":false,"zero":false,"padding":0}}}}
]}
],"resolve":{"scale":{"x":"independent","y":"independent"}}},
{"width":1797,"height":32,"data":{"values":[{"a":1}]},"mark":{"type":"point","opacity":0},"encoding":{}}
],
"resolve":{"scale":{"x":"independent","y":"independent","color":"independent","fill":"independent","stroke":"independent","size":"independent"}}}
